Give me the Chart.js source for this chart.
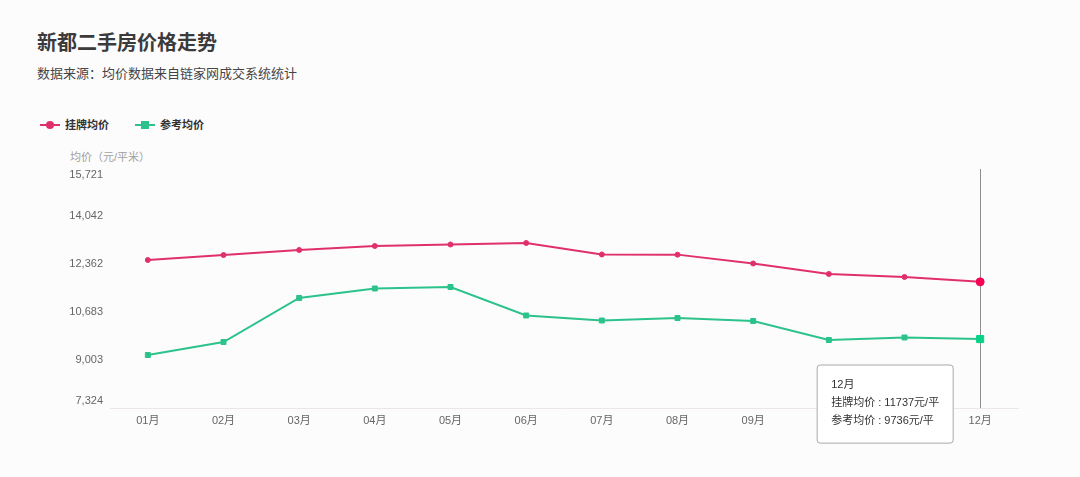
<!DOCTYPE html>
<html>
<head>
<meta charset="utf-8">
<script src="https://cdn.jsdelivr.net/npm/chart.js@4.4.1/dist/chart.umd.min.js"></script>
<style>
  body { margin: 0; background: #fff; font-family: "Liberation Sans", "Noto Sans CJK SC", sans-serif; }
  #wrap { position: relative; width: 1080px; height: 477px; overflow: hidden; background: #fdfcfd; }
  #title { position: absolute; left: 37px; top: 27px; font-size: 20px; font-weight: bold; color: #3b3b3b; }
  #sub { position: absolute; left: 37px; top: 63px; font-size: 13px; color: #454545; }
  #legend { position: absolute; left: 40px; top: 117px; font-size: 11px; font-weight: bold; color: #333; }
  .item { position: absolute; top: 0; white-space: nowrap; height: 16px; line-height: 16px; }
  .mk { position: absolute; top: 7px; width: 20px; height: 2px; }
  .dot { position: absolute; left: 6px; top: -3px; width: 8px; height: 8px; }
  .lbl { position: absolute; left: 25px; top: 0; }
  #yname { position: absolute; left: 70px; top: 148px; font-size: 11px; color: #a0a0a0; }
  canvas { position: absolute; left: 0; top: 0; }
</style>
</head>
<body>
<div id="wrap">
  <div id="title">新都二手房价格走势</div>
  <div id="sub">数据来源：均价数据来自链家网成交系统统计</div>
  <div id="legend"></div>
  <div id="yname">均价（元/平米）</div>
  <canvas id="chart" width="1080" height="477"></canvas>
</div>
<script>
var months = ["01月", "02月", "03月", "04月", "05月", "06月", "07月", "08月", "09月", "10月", "11月", "12月"];
var listPrice = [12502, 12677, 12852, 12992, 13045, 13097, 12695, 12690, 12380, 12013, 11908, 11737];
var refPrice = [9178, 9633, 11173, 11505, 11558, 10561, 10386, 10473, 10368, 9703, 9791, 9736];
var yTicks = [7324, 9003, 10683, 12362, 14042, 15721];
var seriesNames = ["挂牌均价", "参考均价"];
var seriesColors = ["#e0306a", "#2bc38b"];
var unit = "元/平";
var activeIndex = 11;

Chart.defaults.font.family = "'Liberation Sans', 'Noto Sans CJK SC', sans-serif";

// legend: little line with marker, like the original
var legend = document.getElementById("legend");
seriesNames.forEach(function(name, i) {
  var item = document.createElement("div");
  item.className = "item";
  item.style.left = (i * 95) + "px";
  var mk = document.createElement("div");
  mk.className = "mk";
  mk.style.background = seriesColors[i];
  var dot = document.createElement("div");
  dot.className = "dot";
  dot.style.background = seriesColors[i];
  if (i == 0) dot.style.borderRadius = "50%";
  mk.appendChild(dot);
  var lbl = document.createElement("div");
  lbl.className = "lbl";
  lbl.textContent = name;
  item.appendChild(mk);
  item.appendChild(lbl);
  legend.appendChild(item);
});

// vertical pointer line at the hovered month
var pointerLine = {
  id: "pointerLine",
  beforeDatasetsDraw: function(chart) {
    var ctx = chart.ctx;
    var x = Math.round(chart.scales.x.getPixelForValue(activeIndex)) + 0.5;
    ctx.save();
    ctx.strokeStyle = "#8e8e8e";
    ctx.lineWidth = 1;
    ctx.beginPath();
    ctx.moveTo(x, chart.chartArea.top + 1);
    ctx.lineTo(x, chart.chartArea.bottom);
    ctx.stroke();
    ctx.restore();
  }
};

// y labels: edge labels are pulled inside the plot, as in the original
var yLabels = {
  id: "yLabels",
  afterDraw: function(chart) {
    var ctx = chart.ctx;
    var s = chart.scales.y;
    var area = chart.chartArea;
    ctx.save();
    ctx.fillStyle = "#666";
    ctx.font = "11px 'Liberation Sans', 'Noto Sans CJK SC', sans-serif";
    ctx.textAlign = "right";
    ctx.textBaseline = "middle";
    s.ticks.forEach(function(t) {
      var y = s.getPixelForValue(t.value);
      y = Math.max(area.top + 7, Math.min(area.bottom - 7, y));
      ctx.fillText(Number(t.value).toLocaleString("en-US"), area.left - 7, y);
    });
    ctx.restore();
  }
};

Chart.Tooltip.positioners.besideLine = function() {
  var chart = this.chart;
  return {
    x: chart.scales.x.getPixelForValue(activeIndex) - 30,
    y: chart.chartArea.bottom - 43
  };
};

var ctx = document.getElementById("chart").getContext("2d");
var chart = new Chart(ctx, {
  type: "line",
  data: {
    labels: months,
    datasets: [
      {
        label: seriesNames[0],
        data: listPrice,
        borderColor: seriesColors[0],
        backgroundColor: seriesColors[0],
        borderWidth: 2,
        pointStyle: "circle",
        pointRadius: 2.5,
        pointBorderWidth: 1,
        pointHoverRadius: 4,
        pointHoverBorderWidth: 1,
        tension: 0
      },
      {
        label: seriesNames[1],
        data: refPrice,
        borderColor: seriesColors[1],
        backgroundColor: seriesColors[1],
        borderWidth: 2,
        pointStyle: "rect",
        pointRadius: 3.5,
        pointBorderWidth: 1,
        pointHoverRadius: 5,
        pointHoverBorderWidth: 1,
        tension: 0
      }
    ]
  },
  options: {
    responsive: false,
    animation: false,
    events: [],
    layout: { padding: { left: 0, right: 62, top: 168, bottom: 0 } },
    scales: {
      x: {
        type: "category",
        offset: true,
        grid: { display: false, drawTicks: false },
        border: { display: true, color: "#ece5ec", width: 1 },
        ticks: { color: "#666", font: { size: 11 }, padding: 6, maxRotation: 0, autoSkip: false },
        afterFit: function(scale) { scale.height = 69; }
      },
      y: {
        min: yTicks[0],
        max: yTicks[yTicks.length - 1],
        grid: { display: false, drawTicks: false },
        border: { display: false },
        afterBuildTicks: function(scale) {
          scale.ticks = yTicks.map(function(v) { return { value: v }; });
        },
        ticks: { display: false },
        afterFit: function(scale) { scale.width = 110; }
      }
    },
    plugins: {
      legend: { display: false },
      title: { display: false },
      tooltip: {
        mode: "index",
        intersect: false,
        position: "besideLine",
        xAlign: "right",
        yAlign: "top",
        caretSize: 0,
        caretPadding: 0,
        cornerRadius: 3,
        backgroundColor: "#fff",
        borderColor: "#a9a9a9",
        borderWidth: 1,
        displayColors: false,
        titleColor: "#333",
        bodyColor: "#333",
        titleFont: { size: 11, weight: "normal", lineHeight: 1.64 },
        bodyFont: { size: 11, lineHeight: 1.64 },
        titleMarginBottom: 0,
        bodySpacing: 0,
        padding: { top: 11, bottom: 13, left: 14, right: 14 },
        callbacks: {
          label: function(item) {
            return item.dataset.label + " : " + item.raw + unit;
          }
        }
      }
    }
  },
  plugins: [pointerLine, yLabels]
});

var act = [
  { datasetIndex: 0, index: activeIndex },
  { datasetIndex: 1, index: activeIndex }
];
chart.setActiveElements(act);
chart.tooltip.setActiveElements(act, { x: chart.scales.x.getPixelForValue(activeIndex), y: chart.chartArea.bottom });
chart.update();
</script>
</body>
</html>
